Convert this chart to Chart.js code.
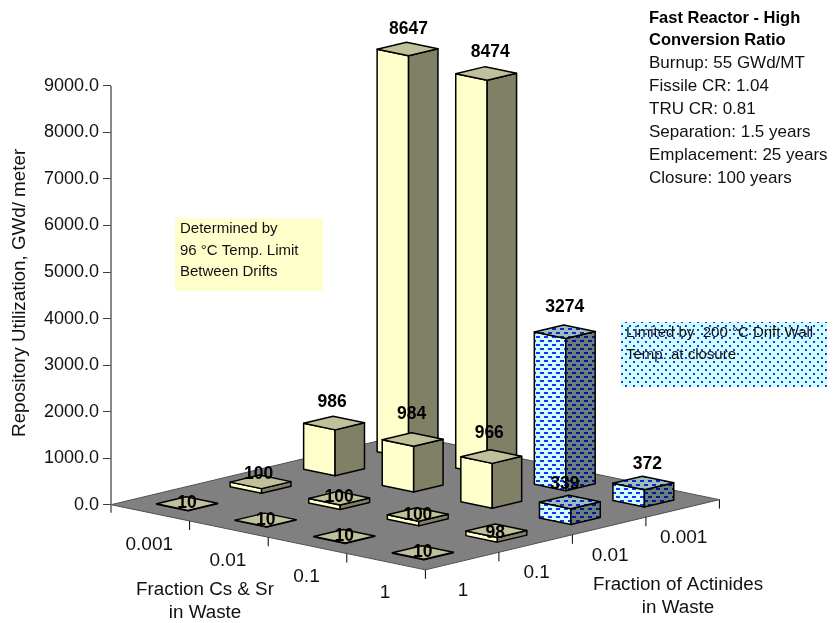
<!DOCTYPE html>
<html>
<head>
<meta charset="utf-8">
<title>Repository Utilization</title>
<script src="https://cdn.jsdelivr.net/npm/chart.js@4"></script>
<style>
  html, body { margin: 0; background: #fff; }
  canvas { display: block; }
</style>
</head>
<body>
<canvas id="chart" width="837" height="623"></canvas>
<script>
const csLabels = ["0.001", "0.01", "0.1", "1"];
const actLabels = ["1", "0.1", "0.01", "0.001"];

// one row per Cs & Sr fraction, columns follow actLabels
const cs0001 = [10, 100, 986, 8647];
const cs001 = [10, 100, 984, 8474];
const cs01 = [10, 100, 966, 3274];
const cs1 = [10, 98, 339, 372];
const rows = [cs0001, cs001, cs01, cs1];

// which cells are limited by the drift wall temperature
const wallLimited = [
  [false, false, false, false],
  [false, false, false, false],
  [false, false, false, true],
  [false, false, true, true]
];

const yTicks = [0, 1000, 2000, 3000, 4000, 5000, 6000, 7000, 8000, 9000];
const yTitle = "Repository Utilization, GWd/ meter";
const infoBold = ["Fast Reactor - High", "Conversion Ratio"];
const infoLines = ["Burnup: 55 GWd/MT", "Fissile CR: 1.04", "TRU CR: 0.81", "Separation: 1.5 years", "Emplacement: 25 years", "Closure: 100 years"];
const yellowNote = ["Determined by", "96 °C Temp. Limit", "Between Drifts"];
const blueNote = ["Limited by  200 °C Drift Wall", "Temp. at closure"];

// floor directions in scale units (x scale is 1 unit per px, y scale is repository units)
const csStep = { x: 78.6, y: -350 };
const actStep = { x: 73.5, y: 377 };
const footprint = 0.2;

// hand placed label nudges in px, same layout as rows
const labelNudge = [
  [[0, 0], [-2, -8], [-2, -21], [1, -20]],
  [[0, 0], [0, -1], [-1, -25], [4, -21]],
  [[0, 0], [0, 1], [-2, -23], [0, -24]],
  [[0, 0], [-1, 2], [-5, -18], [4, -19]]
];

const FONT = '"Liberation Sans", Arial, sans-serif';

function tile(bg, fg, cells) {
  const c = document.createElement("canvas");
  c.width = 8; c.height = 8;
  const g = c.getContext("2d");
  g.fillStyle = bg;
  g.fillRect(0, 0, 8, 8);
  g.fillStyle = fg;
  cells.forEach(r => g.fillRect(r[0], r[1], r[2], r[3]));
  return c;
}

const dash = [[0, 0, 4, 2], [4, 4, 4, 2]];
const dot = [[1, 1, 2, 2], [5, 5, 2, 2]];

const ctx0 = document.getElementById("chart").getContext("2d");
const blueFront = ctx0.createPattern(tile("#ccffff", "#2a2aee", dash), "repeat");
const blueSide = ctx0.createPattern(tile("#667f7f", "#10108a", dash), "repeat");
const blueTop = ctx0.createPattern(tile("#99bfbf", "#2020c0", dash), "repeat");
const noteFill = ctx0.createPattern(tile("#ccffff", "#3030e8", dot), "repeat");

const yellowFaces = { front: "#ffffcc", side: "#808066", top: "#c0c09a" };
const blueFaces = { front: blueFront, side: blueSide, top: blueTop };

function poly(ctx, pts, fill, stroke, w) {
  ctx.beginPath();
  pts.forEach((p, n) => n ? ctx.lineTo(p[0], p[1]) : ctx.moveTo(p[0], p[1]));
  ctx.closePath();
  if (fill) { ctx.fillStyle = fill; ctx.fill(); }
  if (stroke) { ctx.strokeStyle = stroke; ctx.lineWidth = w; ctx.lineJoin = "round"; ctx.stroke(); }
}

function text(ctx, str, x, y, font, align, color) {
  ctx.font = font;
  ctx.textAlign = align || "left";
  ctx.textBaseline = "middle";
  ctx.fillStyle = color || "#000";
  ctx.fillText(str, x, y);
}

const box3d = {
  id: "box3d",
  beforeDatasetsDraw(chart) {
    const ctx = chart.ctx;
    const xs = chart.scales.x, ys = chart.scales.y;
    // grid position -> px, v is the height above the floor
    const at = (i, j, v) => [
      xs.getPixelForValue(i * csStep.x + j * actStep.x),
      ys.getPixelForValue(i * csStep.y + j * actStep.y + (v || 0))
    ];
    const n = csLabels.length, m = actLabels.length;

    ctx.save();
    // notes sit behind the bars
    ctx.fillStyle = "#ffffcc";
    ctx.fillRect(175, 218, 148, 73);
    ctx.fillStyle = noteFill;
    ctx.fillRect(621, 322, 206, 65);

    // floor
    poly(ctx, [at(0, 0), at(n, 0), at(n, m), at(0, m)], "#808080", "#505050", 1);

    // value axis line
    const ax = xs.getPixelForValue(0);
    ctx.strokeStyle = "#606060";
    ctx.lineWidth = 1.5;
    ctx.beginPath();
    ctx.moveTo(ax, ys.getPixelForValue(yTicks[yTicks.length - 1]));
    ctx.lineTo(ax, ys.getPixelForValue(0) + 8);
    ctx.stroke();

    // category ticks and labels
    ctx.strokeStyle = "#000";
    ctx.lineWidth = 1;
    for (let i = 1; i <= n; i++) {
      const p = at(i, 0);
      ctx.beginPath(); ctx.moveTo(p[0], p[1]); ctx.lineTo(p[0], p[1] + 9); ctx.stroke();
    }
    for (let j = 1; j <= m; j++) {
      const p = at(n, j);
      ctx.beginPath(); ctx.moveTo(p[0], p[1]); ctx.lineTo(p[0], p[1] + 9); ctx.stroke();
    }
    const tickFont = "19px " + FONT;
    csLabels.forEach((s, i) => {
      const p = at(i + 0.5, 0);
      text(ctx, s, p[0] - 1, p[1] + 31.5, tickFont, "center", "#111");
    });
    actLabels.forEach((s, j) => {
      const p = at(n, j + 0.5);
      text(ctx, s, p[0] + 1, p[1] + 29.5, tickFont, "center", "#111");
    });

    // bars, back corner first
    const cells = [];
    rows.forEach((r, i) => r.forEach((v, j) => cells.push({ i, j, v })));
    cells.sort((a, b) => (a.i - a.j) - (b.i - b.j));
    cells.forEach(c => {
      const a = c.i + 0.5, b = c.j + 0.5, f = footprint;
      const faces = wallLimited[c.i][c.j] ? blueFaces : yellowFaces;
      const left = v => at(a - f, b - f, v);
      const front = v => at(a + f, b - f, v);
      const right = v => at(a + f, b + f, v);
      const back = v => at(a - f, b + f, v);
      poly(ctx, [left(0), front(0), front(c.v), left(c.v)], faces.front, "#000", 1.5);
      poly(ctx, [front(0), right(0), right(c.v), front(c.v)], faces.side, "#000", 1.5);
      poly(ctx, [left(c.v), front(c.v), right(c.v), back(c.v)], faces.top, "#000", 1.5);
    });

    // value labels on top of everything
    cells.forEach(c => {
      const p = at(c.i + 0.5, c.j + 0.5, c.v);
      const nudge = labelNudge[c.i][c.j];
      text(ctx, String(c.v), p[0] + nudge[0], p[1] + nudge[1], "bold 17.5px " + FONT, "center", "#000");
    });

    // axis titles
    const titleFont = "18.8px " + FONT;
    text(ctx, "Fraction Cs & Sr", 205, 590, titleFont, "center", "#111");
    text(ctx, "in Waste", 205, 613, titleFont, "center", "#111");
    text(ctx, "Fraction of Actinides", 678, 585, titleFont, "center", "#111");
    text(ctx, "in Waste", 678, 608, titleFont, "center", "#111");

    // notes
    const noteFont = "15px " + FONT;
    yellowNote.forEach((s, k) => text(ctx, s, 180, 229 + k * 21.4, noteFont, "left", "#111"));
    blueNote.forEach((s, k) => text(ctx, s, 626, 333 + k * 22, noteFont, "left", "#111"));

    // scenario block
    infoBold.forEach((s, k) => text(ctx, s, 649, 18 + k * 22.9, "bold 16.5px " + FONT, "left", "#000"));
    infoLines.forEach((s, k) => text(ctx, s, 649, 63.8 + k * 22.9, "17px " + FONT, "left", "#111"));
    ctx.restore();
  }
};

new Chart(ctx0, {
  type: "scatter",
  data: {
    datasets: rows.map((r, i) => ({
      label: csLabels[i],
      data: r.map((v, j) => ({
        x: (i + 0.5) * csStep.x + (j + 0.5) * actStep.x,
        y: (i + 0.5) * csStep.y + (j + 0.5) * actStep.y + v
      })),
      pointRadius: 0
    }))
  },
  options: {
    responsive: false,
    animation: false,
    layout: { autoPadding: false, padding: { top: 0, right: 0, left: 0, bottom: 52 } },
    plugins: { legend: { display: false }, tooltip: { enabled: false } },
    scales: {
      x: { type: "linear", display: false, min: 0, max: 726 },
      y: {
        type: "linear",
        min: -1425,
        max: 10528,
        afterBuildTicks: s => { s.ticks = yTicks.map(value => ({ value })); },
        afterFit: s => { s.width = 111; },
        border: { display: false },
        grid: { drawOnChartArea: false, drawTicks: true, tickLength: 8, tickColor: "#404040", lineWidth: 1 },
        ticks: {
          autoSkip: false,
          padding: 4,
          color: "#111",
          font: { family: FONT, size: 18 },
          callback: v => v.toFixed(1)
        },
        title: {
          display: true,
          text: yTitle,
          color: "#111",
          font: { family: FONT, size: 18.8 },
          padding: { top: 9, bottom: 0 }
        }
      }
    }
  },
  plugins: [box3d]
});
</script>
</body>
</html>
